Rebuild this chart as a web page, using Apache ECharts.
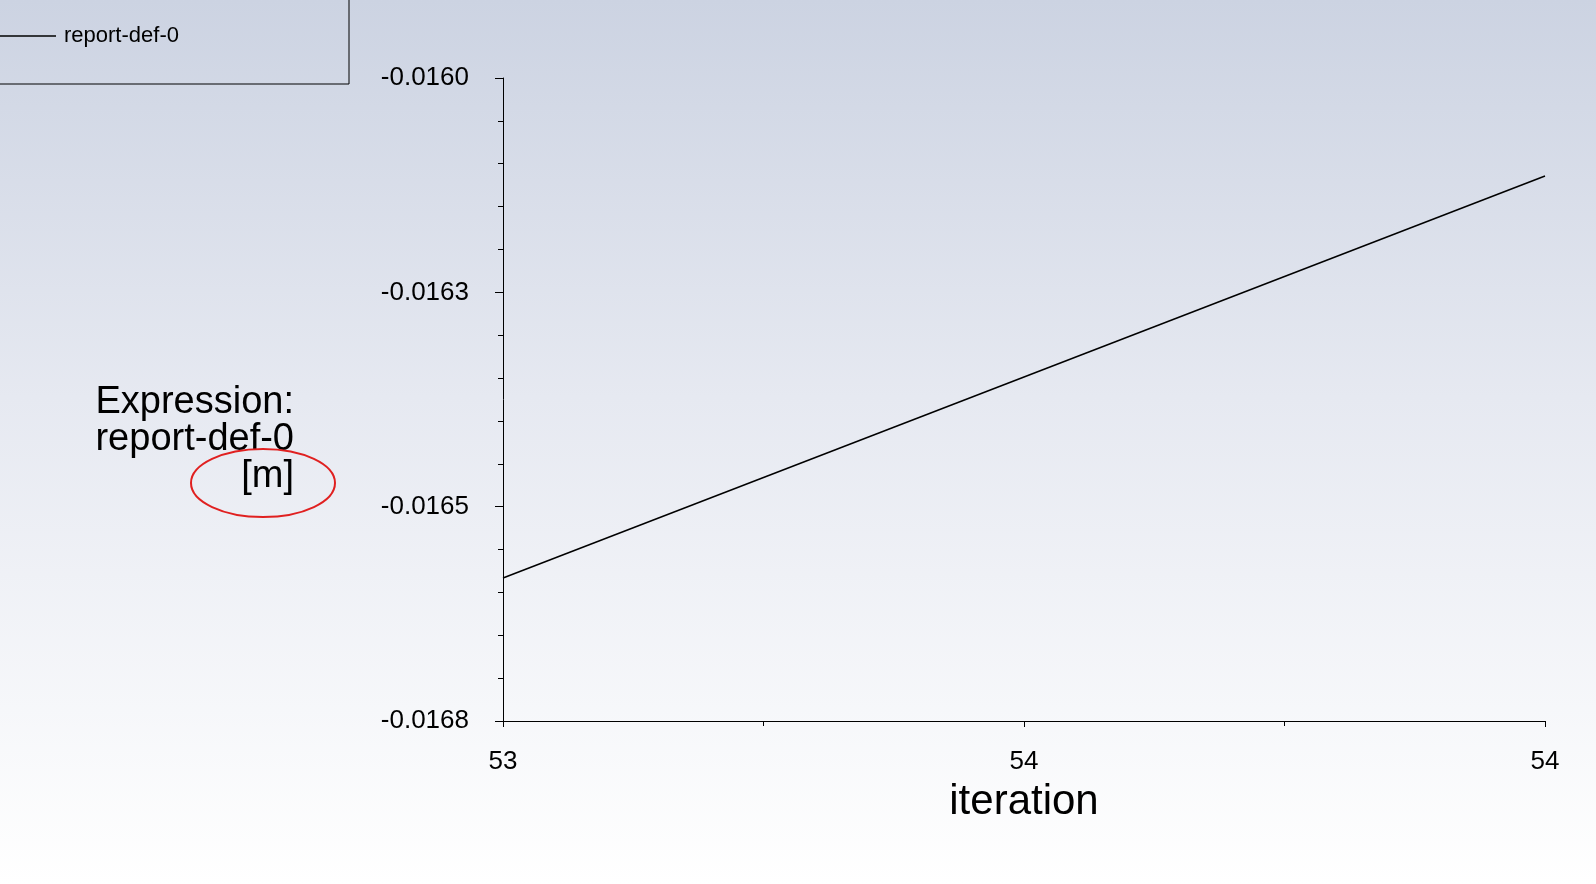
<!DOCTYPE html>
<html>
<head>
<meta charset="utf-8">
<script src="https://cdn.jsdelivr.net/npm/echarts@6/dist/echarts.min.js"></script>
<style>
html,body{margin:0;padding:0;}
#chart{width:1596px;height:884px;background:linear-gradient(to bottom,#ccd3e2 0%,#e6e9f1 45%,#ffffff 100%);}
</style>
</head>
<body>
<div id="chart"></div>
<script>
// data
let seriesName = 'report-def-0';
let iterations = [53, 54];
let values = [-0.016622, -0.016122];
let yTitle = 'Expression:\nreport-def-0\n[m]';
let xTitle = 'iteration';

let chart = echarts.init(document.getElementById('chart'));

let option = {
	animation: false,
	grid: { left: 503, right: 51, top: 78, bottom: 163 },
	xAxis: {
		type: 'value',
		min: 53, max: 54, interval: 0.5,
		name: xTitle, nameLocation: 'middle', nameGap: 60,
		nameTextStyle: { fontSize: 42, color: '#000', fontFamily: 'Liberation Sans' },
		axisLine: { lineStyle: { color: '#000' } },
		axisTick: { length: 6, lineStyle: { color: '#000' } },
		minorTick: { show: true, splitNumber: 2, length: 5, lineStyle: { color: '#000' } },
		axisLabel: { margin: 28, fontSize: 26, color: '#000', fontFamily: 'Liberation Sans',
			formatter: v => Math.round(v).toString() },
		splitLine: { show: false }
	},
	yAxis: {
		type: 'value',
		min: -0.0168, max: -0.0160, interval: 0.0008 / 3,
		axisLine: { show: true, lineStyle: { color: '#000' } },
		axisTick: { show: true, length: 8, lineStyle: { color: '#000' } },
		minorTick: { show: true, splitNumber: 5, length: 5, lineStyle: { color: '#000' } },
		axisLabel: { margin: 34, fontSize: 26, color: '#000', fontFamily: 'Liberation Sans',
			formatter: v => v.toFixed(4) },
		splitLine: { show: false }
	},
	series: [{
		name: seriesName,
		type: 'line',
		data: iterations.map((x, i) => [x, values[i]]),
		showSymbol: false,
		lineStyle: { color: '#000', width: 1.5 }
	}],
	graphic: [
		{ type: 'rect', shape: { x: -5, y: -5, width: 354, height: 89 },
		  style: { fill: 'none', stroke: '#000', lineWidth: 1 } },
		{ type: 'line', shape: { x1: 0, y1: 36, x2: 56, y2: 36 }, style: { stroke: '#000', lineWidth: 1.5 } },
		{ type: 'text', x: 64, y: 36, style: { text: seriesName, font: '22px "Liberation Sans"',
		  fill: '#000', verticalAlign: 'middle' } },
		{ type: 'text', x: 294, y: 384, style: { text: yTitle, font: '38px "Liberation Sans"',
		  fill: '#000', align: 'right', lineHeight: 37 } },
		{ type: 'ellipse', shape: { cx: 263, cy: 483, rx: 72, ry: 34 },
		  style: { fill: 'none', stroke: '#e02020', lineWidth: 2 } }
	]
};

chart.setOption(option);
</script>
</body>
</html>
